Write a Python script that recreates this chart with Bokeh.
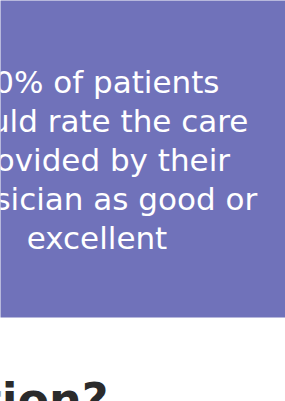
from bokeh.plotting import figure
from bokeh.models import Range1d, ColumnDataSource
from bokeh.core.properties import value
from bokeh.embed import file_html
from bokeh.resources import INLINE

# content
stat_lines = ["90% of patients", "would rate the care", "provided by their",
              "physician as good or", "excellent"]
heading = ["satisfaction?"]

W, H = 285, 401
p = figure(width=W, height=H, x_range=Range1d(0, W), y_range=Range1d(H, 0),
           output_backend="svg", toolbar_location=None, min_border=0)
p.axis.visible = False
p.grid.visible = False
p.outline_line_color = None
p.background_fill_color = "white"
p.border_fill_color = "white"

# purple panel
p.quad(left=[-5], right=[W + 5], top=[-5], bottom=[317], fill_color="#7072ba", line_color=None)

src = ColumnDataSource(dict(
    x=[96.5] * len(stat_lines),
    y=[81 + 39 * i for i in range(len(stat_lines))],
    t=stat_lines))
p.text(x="x", y="y", text="t", source=src, text_color="white",
       text_font=value("DejaVu Sans"), text_font_size="31px",
       text_align="center", text_baseline="alphabetic")

hsrc = ColumnDataSource(dict(x=[108], y=[399], t=heading))
p.text(x="x", y="y", text="t", source=hsrc, text_color="#2b2b2b",
       text_font=value("DejaVu Sans"), text_font_size="46px", text_font_style="bold",
       text_align="right", text_baseline="alphabetic")

open("out.html", "w").write(file_html(p, INLINE))
